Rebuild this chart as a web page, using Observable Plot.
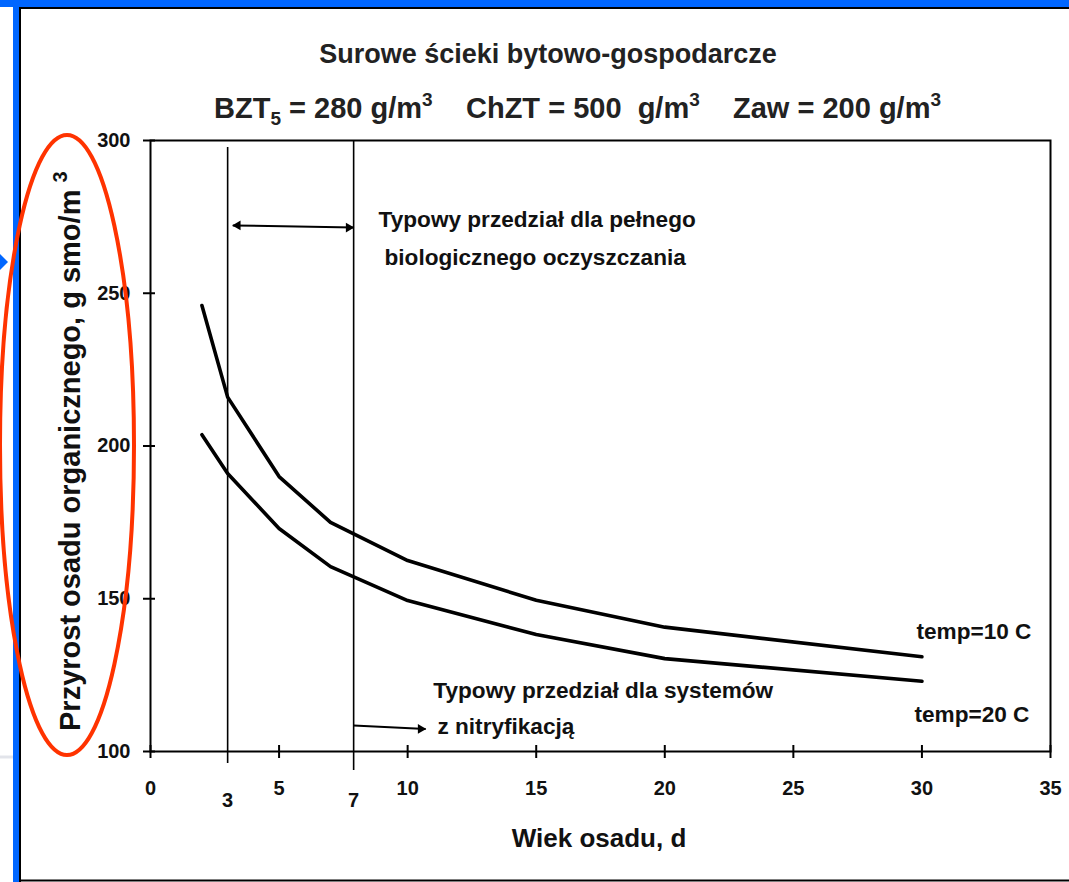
<!DOCTYPE html>
<html><head><meta charset="utf-8">
<script src="https://cdn.jsdelivr.net/npm/d3@7"></script>
<script src="https://cdn.jsdelivr.net/npm/@observablehq/plot@0.6"></script>
<style>
html,body{margin:0;padding:0;background:#fff;}
#wrap{position:relative;width:1069px;height:882px;overflow:hidden;}
</style></head><body><div id="wrap"></div>
<script>
// --- data ---
const days = [2, 3, 5, 7, 10, 15, 20, 30];
const growth10C = [246, 216, 190, 175, 162.5, 149.5, 140.7, 131];
const growth20C = [203.7, 191, 173, 160.5, 149.4, 138.3, 130.4, 123];
const seriesNames = ["temp=10 C", "temp=20 C"];
const xTicks = [0, 5, 10, 15, 20, 25, 30, 35];
const yTicks = [100, 150, 200, 250, 300];
const refX = [3, 7.9];
const refLabels = ["3", "7"];
const refTop = [297.7, 300];
const refBottom = [96.1, 93.8];
const arrowX1 = [3.2, 7.9], arrowY1 = [272.2, 108.5];
const arrowX2 = [7.9, 10.7], arrowY2 = [271.5, 107.4];
const arrowBoth = [true, false];
const noteText = ["Typowy przedział dla pełnego", "biologicznego oczyszczania",
  "Typowy przedział dla systemów", "z nitryfikacją", "temp=10 C", "temp=20 C"];
const noteX = [8.87, 9.1, 11.0, 11.16, 29.79, 29.71];
const noteY = [274.1, 261.7, 120.0, 108.2, 139.3, 112.1];
const titleText = "Surowe ścieki bytowo-gospodarcze";
const yLabelText = "Przyrost osadu organicznego, g smo/m";
const xLabelText = "Wiek osadu, d";

// --- tables for the library ---
const rows = [];
days.forEach((d, i) => {
  rows.push({day: d, growth: growth10C[i], series: seriesNames[0]});
  rows.push({day: d, growth: growth20C[i], series: seriesNames[1]});
});
const refs = refX.map((x, i) => ({x, label: refLabels[i], top: refTop[i], bottom: refBottom[i]}));
const arrows = arrowX1.map((x1, i) => ({x1, y1: arrowY1[i], x2: arrowX2[i], y2: arrowY2[i], both: arrowBoth[i]}));
const headsRight = arrows.map(a => ({x: a.x2, y: a.y2}));
const headsLeft = arrows.filter(a => a.both).map(a => ({x: a.x1, y: a.y1}));
const notes = noteText.map((t, i) => ({text: t, x: noteX[i], y: noteY[i]}));

const FONT = "'Liberation Sans', Arial, Helvetica, sans-serif";
const INK = "#111";

const chart = Plot.plot({
  width: 1069, height: 882,
  marginLeft: 150, marginRight: 19, marginTop: 140, marginBottom: 131,
  x: {domain: [0, 35]},
  y: {domain: [100, 300]},
  style: {fontFamily: FONT, background: "transparent", color: INK, overflow: "visible"},
  marks: [
    Plot.ruleX(refs, {x: "x", y1: "bottom", y2: "top", stroke: "#000", strokeWidth: 1.6}),
    Plot.line(rows, {x: "day", y: "growth", z: "series", stroke: "#000", strokeWidth: 3.6}),
    Plot.frame({stroke: "#000", strokeWidth: 2}),
    Plot.ruleX(xTicks, {x: d => d, y1: 100, y2: 100, insetTop: 7, insetBottom: 6, stroke: "#000", strokeWidth: 2}),
    Plot.ruleY(yTicks, {y: d => d, x1: 0, x2: 0, insetLeft: 5, insetRight: 7, stroke: "#000", strokeWidth: 2}),
    Plot.axisX({ticks: xTicks, tickSize: 0, tickPadding: 29, fontSize: 20, fontWeight: "bold", label: null, tickFormat: d => String(d), fill: INK}),
    Plot.axisY({ticks: yTicks, tickSize: 0, tickPadding: 20, fontSize: 20, fontWeight: "bold", label: null, tickFormat: d => String(d), fill: INK}),
    Plot.text(refs, {x: "x", y: 100, text: "label", dy: 49, fontSize: 20, fontWeight: "bold", fill: INK}),
    Plot.link(arrows, {x1: "x1", y1: "y1", x2: "x2", y2: "y2", stroke: "#000", strokeWidth: 2}),
    Plot.dot(headsRight, {x: "x", y: "y", symbol: "triangle", r: 3.6, rotate: 90, dx: -5, fill: "#000", stroke: "none"}),
    Plot.dot(headsLeft, {x: "x", y: "y", symbol: "triangle", r: 3.6, rotate: -90, dx: 5, fill: "#000", stroke: "none"}),
    Plot.text(notes, {x: "x", y: "y", text: "text", textAnchor: "start", lineAnchor: "middle", fontSize: 22.6, fontWeight: "bold", fill: INK})
  ]
});

document.getElementById("wrap").appendChild(chart);

// --- slide decoration and titles ---
const svg = d3.select(chart);
const deco = svg.append("g");
deco.append("rect").attr("x", 0).attr("y", 0).attr("width", 1069).attr("height", 7).attr("fill", "#0066ff");
deco.append("rect").attr("x", 13).attr("y", 0).attr("width", 6).attr("height", 882).attr("fill", "#0066ff");
deco.append("line").attr("x1", 20).attr("x2", 1069).attr("y1", 8).attr("y2", 8).attr("stroke", "#000").attr("stroke-width", 2);
deco.append("line").attr("x1", 20).attr("x2", 20).attr("y1", 7).attr("y2", 882).attr("stroke", "#000").attr("stroke-width", 2);
deco.append("line").attr("x1", 20).attr("x2", 1069).attr("y1", 880.5).attr("y2", 880.5).attr("stroke", "#000").attr("stroke-width", 2);
deco.append("line").attr("x1", 0).attr("x2", 13).attr("y1", 757).attr("y2", 757).attr("stroke", "#e2e4ea").attr("stroke-width", 3);
deco.append("path").attr("d", "M0,254L8,262L0,270Z").attr("fill", "#0066ff");

const tx = svg.append("g").attr("font-family", FONT).attr("font-weight", "bold").attr("fill", "#222").attr("text-anchor", "start");
tx.append("text").attr("x", 548).attr("y", 63).attr("text-anchor", "middle").attr("font-size", 27).text(titleText);

function chem(x, parts) {
  const t = tx.append("text").attr("x", x).attr("y", 118).attr("font-size", 29).attr("text-anchor", "start").style("white-space", "pre");
  parts.forEach(p => {
    if (p.sub) t.append("tspan").attr("font-size", 19).attr("dy", 7).text(p.sub);
    else if (p.sup) t.append("tspan").attr("font-size", 19).attr("dy", -12).text(p.sup);
    if (p.text) t.append("tspan").attr("dy", p.back || 0).text(p.text);
  });
  return t;
}
chem(214, [{text: "BZT"}, {sub: "5"}, {text: " = 280 g/m", back: -7}, {sup: "3"}]);
chem(466, [{text: "ChZT = 500  g/m"}, {sup: "3"}]);
chem(733, [{text: "Zaw = 200 g/m"}, {sup: "3"}]);

const yl = tx.append("text").attr("transform", "translate(80,731) rotate(-90)").attr("text-anchor", "start").attr("font-size", 29).attr("fill", INK);
yl.append("tspan").text(yLabelText);
yl.append("tspan").attr("font-size", 20).attr("dx", 7).attr("dy", -13).text("3");

tx.append("text").attr("x", 599).attr("y", 847).attr("text-anchor", "middle").attr("font-size", 26).attr("fill", INK).text(xLabelText);

svg.append("ellipse").attr("cx", 67).attr("cy", 445).attr("rx", 67).attr("ry", 310)
  .attr("fill", "none").attr("stroke", "#ff3300").attr("stroke-width", 4);
</script>
</body></html>
